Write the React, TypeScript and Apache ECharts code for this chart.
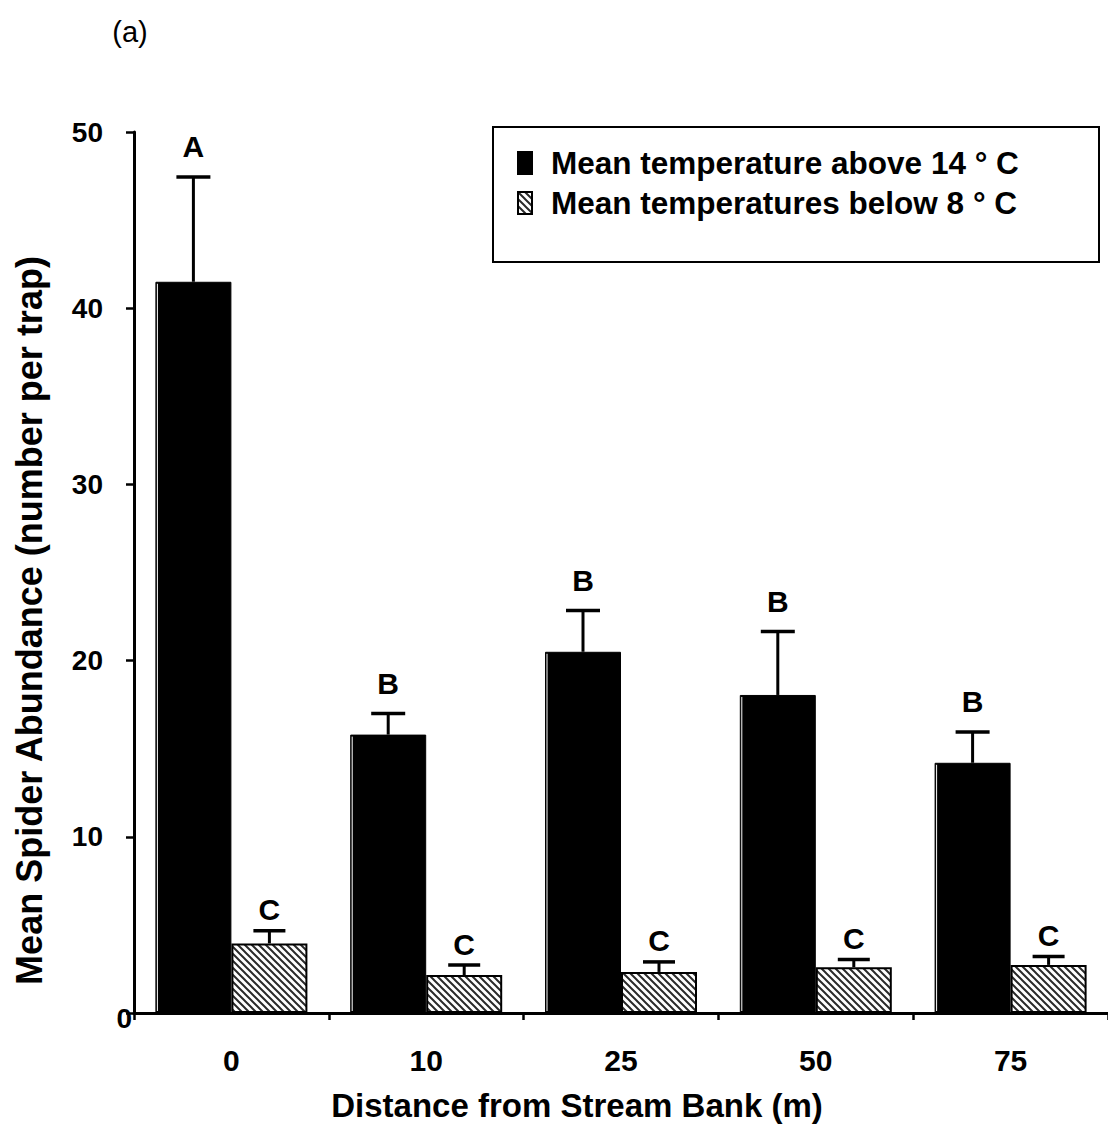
import React, { useEffect, useRef } from 'react';
import * as echarts from 'echarts';

const categories = ['0', '10', '25', '50', '75'];
const warmMeans = [41.5, 15.8, 20.5, 18.05, 14.2];
const warmErrors = [5.95, 1.2, 2.35, 3.6, 1.75];
const coldMeans = [3.95, 2.15, 2.33, 2.6, 2.73];
const coldErrors = [0.72, 0.57, 0.57, 0.43, 0.47];
const warmLetters = ['A', 'B', 'B', 'B', 'B'];
const coldLetters = ['C', 'C', 'C', 'C', 'C'];
const seriesNames = ['Mean temperature above 14 ° C', 'Mean temperatures below 8 ° C'];
const yMin = 0;
const yMax = 50;
const yStep = 10;

const FONT = '"Liberation Sans", Arial, Helvetica, sans-serif';
const BAR_W = 76;

const hatchSvg =
  '<svg xmlns="http://www.w3.org/2000/svg" width="7" height="7">' +
  '<rect width="7" height="7" fill="#ffffff"/>' +
  '<path d="M-1,-1 L8,8 M-1,6 L1,8 M6,-1 L8,1" stroke="#2a2a2a" stroke-width="2"/>' +
  '</svg>';
const hatchUrl = 'data:image/svg+xml;charset=utf-8,' + encodeURIComponent(hatchSvg);

function errorSeries(
  name: string,
  means: number[],
  errs: number[],
  letters: string[],
  offset: number,
  capHalf: number,
  letterGap: number,
  edgeLine: boolean
) {
  return {
    type: 'custom',
    name,
    z: 5,
    data: means.map((m, i) => [i, m, errs[i]]),
    renderItem: (params: any, api: any) => {
      const idx = params.dataIndex;
      const cat = api.value(0);
      const mean = api.value(1);
      const err = api.value(2);
      const base = api.coord([cat, mean]);
      const top = api.coord([cat, mean + err]);
      const zero = api.coord([cat, 0]);
      const x = base[0] + offset;
      const children: any[] = [
        { type: 'line', shape: { x1: x, y1: base[1], x2: x, y2: top[1] }, style: { stroke: '#000', lineWidth: 3 } },
        { type: 'line', shape: { x1: x - capHalf, y1: top[1], x2: x + capHalf, y2: top[1] }, style: { stroke: '#000', lineWidth: 3.5 } },
        {
          type: 'text',
          x,
          y: top[1] - letterGap,
          style: {
            text: letters[idx],
            font: `bold 30px ${FONT}`,
            fill: '#000',
            align: 'center',
            verticalAlign: 'middle',
          },
        },
      ];
      if (edgeLine) {
        const ex = x - BAR_W / 2 + 2;
        children.push({
          type: 'line',
          shape: { x1: ex, y1: base[1] + 2, x2: ex, y2: zero[1] - 2 },
          style: { stroke: '#ffffff', lineWidth: 1 },
        });
      }
      return { type: 'group', children };
    },
  };
}

export default function App() {
  const ref = useRef<HTMLDivElement>(null);
  useEffect(() => {
    document.body.style.margin = '0';
    if (!ref.current) return;
    const chart = echarts.init(ref.current, null, { renderer: 'svg' });
    const labelBase = { fontFamily: FONT, fontWeight: 'bold' as const, fontSize: 28, color: '#000' };
    chart.setOption({
      animation: false,
      backgroundColor: '#fff',
      grid: { left: 134, top: 132, bottom: 132, right: -7.25, containLabel: false },
      legend: {
        data: seriesNames,
        orient: 'vertical',
        left: 517,
        top: 147,
        padding: 0,
        itemWidth: 14,
        itemHeight: 22,
        itemGap: 8,
        selectedMode: false,
        icon: 'rect',
        textStyle: { fontFamily: FONT, fontWeight: 'bold', fontSize: 31.5, color: '#000', lineHeight: 28, padding: [0, 0, 0, 14] },
      },
      graphic: [
        { type: 'rect', shape: { x: 493, y: 127, width: 606, height: 135 }, style: { fill: 'none', stroke: '#000', lineWidth: 2 }, z: 10 },
        { type: 'text', x: 130, y: 32, style: { text: '(a)', font: `29px ${FONT}`, fill: '#000', align: 'center', verticalAlign: 'middle' } },
      ],
      xAxis: {
        type: 'category',
        data: categories,
        axisLine: { lineStyle: { color: '#000', width: 3 } },
        axisTick: { show: true, length: 7, lineStyle: { color: '#000', width: 2.5 } },
        axisLabel: { ...labelBase, fontSize: 30, margin: 32 },
        name: 'Distance from Stream Bank (m)',
        nameLocation: 'middle',
        nameGap: 76,
        nameTextStyle: { fontFamily: FONT, fontWeight: 'bold', fontSize: 33, color: '#000', padding: [0, 88, 0, 0] },
      },
      yAxis: {
        type: 'value',
        min: yMin,
        max: yMax,
        interval: yStep,
        splitLine: { show: false },
        axisLine: { show: true, lineStyle: { color: '#000', width: 3 } },
        axisTick: { show: true, length: 8, lineStyle: { color: '#000', width: 2.5 } },
        axisLabel: {
          ...labelBase,
          margin: 2,
          formatter: (v: number) => (v === 0 ? `{z|${v}}` : `{n|${v}}`),
          rich: {
            n: { ...labelBase, padding: [0, 29, 0, 0] },
            z: { ...labelBase, padding: [10, 0, 0, 0] },
          },
        },
        name: 'Mean Spider Abundance (number per trap)',
        nameLocation: 'middle',
        nameGap: 87,
        nameTextStyle: { fontFamily: FONT, fontWeight: 'bold', fontSize: 36, color: '#000', padding: [0, 96, 0, 0] },
      },
      series: [
        {
          type: 'bar',
          name: seriesNames[0],
          data: warmMeans,
          barWidth: BAR_W,
          barGap: '0%',
          itemStyle: { color: '#000', borderColor: '#000', borderWidth: 1 },
        },
        {
          type: 'bar',
          name: seriesNames[1],
          data: coldMeans,
          barWidth: BAR_W,
          barGap: '0%',
          itemStyle: {
            color: { image: hatchUrl, repeat: 'repeat', imageWidth: 7, imageHeight: 7 },
            borderColor: '#000',
            borderWidth: 2,
          },
        },
        errorSeries('warmErr', warmMeans, warmErrors, warmLetters, -BAR_W / 2, 17, 30, true),
        errorSeries('coldErr', coldMeans, coldErrors, coldLetters, BAR_W / 2, 16, 21, false),
      ],
    });
    return () => chart.dispose();
  }, []);
  return <div ref={ref} style={{ width: 1108, height: 1145 }} />;
}
